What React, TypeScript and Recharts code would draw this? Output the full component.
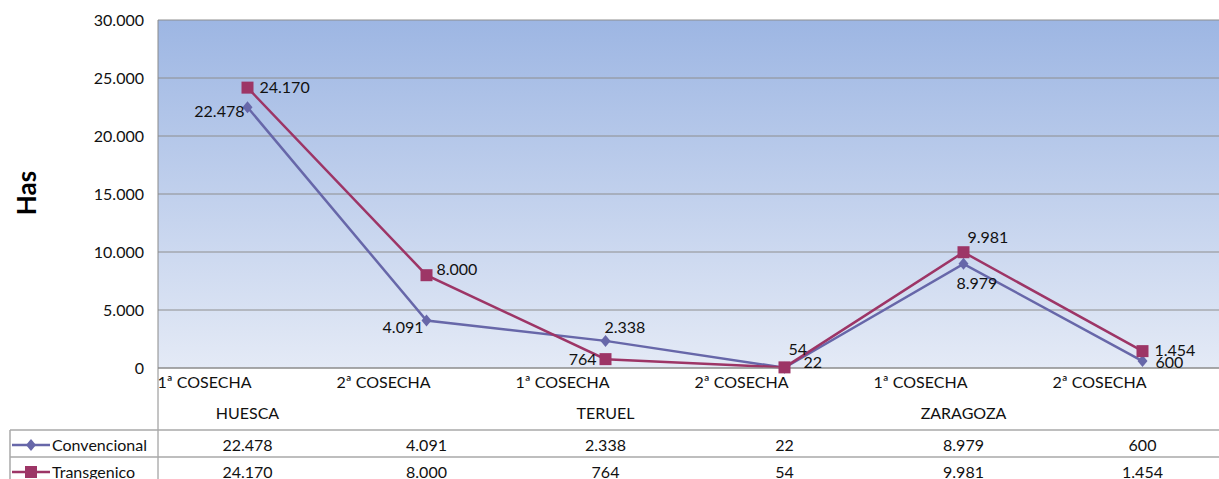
import React from 'react';
import { LineChart, Line, XAxis, YAxis, CartesianGrid, LabelList } from 'recharts';

// campaign table: Has per provincia / cosecha
const categories = ['1ª COSECHA', '2ª COSECHA', '1ª COSECHA', '2ª COSECHA', '1ª COSECHA', '2ª COSECHA'];
const groups = ['HUESCA', '', 'TERUEL', '', 'ZARAGOZA', ''];
const convencional = [22478, 4091, 2338, 22, 8979, 600];
const transgenico = [24170, 8000, 764, 54, 9981, 1454];
const seriesNames = ['Convencional', 'Transgenico'];
const yTicks = [0, 5000, 10000, 15000, 20000, 25000, 30000];

const CONV = '#6767a9';
const TRANS = '#9d3566';
const FONT = 'Lato, "Open Sans", "Liberation Sans", sans-serif';
const FS = 16;

// label placement per point [dx, dy, anchor], Excel put them all over the place
const convLabelPos: [number, number, string][] = [
  [-3, 10, 'end'],
  [-3, 12, 'end'],
  [-1, -8, 'start'],
  [19, 0, 'start'],
  [-7, 25, 'start'],
  [13, 7, 'start'],
];
const transLabelPos: [number, number, string][] = [
  [12, 5, 'start'],
  [10, 0, 'start'],
  [-9, 6, 'end'],
  [4, -12, 'start'],
  [4, -9, 'start'],
  [12, 5, 'start'],
];

const data = categories.map((c, i) => ({
  key: i,
  cat: c,
  conv: convencional[i],
  trans: transgenico[i],
}));

function fmt(n: number) {
  return String(n).replace(/\B(?=(\d{3})+(?!\d))/g, '.');
}

const Diamond = (p: any) => {
  const { cx, cy, index } = p;
  if (cx == null || cy == null) return <g key={'d' + index} />;
  return (
    <path
      key={'d' + index}
      d={`M${cx},${cy - 6}L${cx + 5},${cy}L${cx},${cy + 6}L${cx - 5},${cy}Z`}
      fill={CONV}
    />
  );
};

const Square = (p: any) => {
  const { cx, cy, index } = p;
  if (cx == null || cy == null) return <g key={'s' + index} />;
  return <rect key={'s' + index} x={cx - 6} y={cy - 6} width={12} height={12} fill={TRANS} />;
};

const makeLabel = (pos: [number, number, string][]) => (props: any) => {
  const { x, y, index, value } = props;
  const [dx, dy, anchor] = pos[index];
  return (
    <text x={x + dx} y={y + dy} textAnchor={anchor as any} fontSize={FS} fill="#111" fontFamily={FONT}>
      {fmt(value)}
    </text>
  );
};

const TableTick = (props: any) => {
  const { x, y, payload } = props;
  const i = payload.value;
  return (
    <g fontFamily={FONT} fontSize={FS} fill="#111">
      <text x={x + 4} y={y + 20} textAnchor="end">{categories[i]}</text>
      {groups[i] ? (
        <text x={x} y={y + 51} textAnchor="middle">{groups[i]}</text>
      ) : null}
      <text x={x} y={y + 83} textAnchor="middle">{fmt(convencional[i])}</text>
      <text x={x} y={y + 110} textAnchor="middle">{fmt(transgenico[i])}</text>
    </g>
  );
};

const HasLabel = () => (
  <text
    x={36}
    y={193}
    transform="rotate(-90 36 193)"
    textAnchor="middle"
    fontSize={26}
    fontWeight="bold"
    fontFamily={FONT}
    fill="#000"
  >
    Has
  </text>
);

export default function App() {
  return (
    <div style={{ position: 'absolute', left: 0, top: 0, width: 1219, height: 479, overflow: 'hidden', background: '#fff' }}>
      <LineChart width={1240} height={479} data={data} margin={{ top: 20, right: 8, bottom: 0, left: 0 }}>
        <defs>
          <linearGradient id="bg" x1="0" y1="0" x2="0" y2="1">
            <stop offset="0%" stopColor="#9db6e3" />
            <stop offset="100%" stopColor="#e4eaf6" />
          </linearGradient>
        </defs>
        <CartesianGrid vertical={false} stroke="#8e8e8e" fill="url(#bg)" fillOpacity={1} />
        <XAxis
          dataKey="key"
          type="category"
          interval={0}
          height={111}
          padding={{ left: 89.5, right: 89.5 }}
          tickSize={0}
          tickMargin={0}
          tickLine={false}
          axisLine={{ stroke: '#8a8a8a' }}
          tick={<TableTick />}
        />
        <YAxis
          width={158}
          domain={[0, 30000]}
          ticks={yTicks}
          tickFormatter={fmt}
          tickSize={0}
          tickMargin={14}
          tickLine={false}
          axisLine={{ stroke: '#8a8a8a' }}
          tick={{ fill: '#111', fontSize: FS, fontFamily: FONT }}
          label={<HasLabel />}
        />
        <Line
          dataKey="conv"
          name={seriesNames[0]}
          stroke={CONV}
          strokeWidth={2.5}
          dot={Diamond}
          activeDot={false}
          isAnimationActive={false}
        >
          <LabelList dataKey="conv" content={makeLabel(convLabelPos)} />
        </Line>
        <Line
          dataKey="trans"
          name={seriesNames[1]}
          stroke={TRANS}
          strokeWidth={2.5}
          dot={Square}
          activeDot={false}
          isAnimationActive={false}
        >
          <LabelList dataKey="trans" content={makeLabel(transLabelPos)} />
        </Line>
      </LineChart>
      <svg
        width={1219}
        height={479}
        style={{ position: 'absolute', left: 0, top: 0, pointerEvents: 'none' }}
        fontFamily={FONT}
      >
        <line x1={158} y1={368} x2={158} y2={479} stroke="#8a8a8a" strokeWidth={1} />
        <line x1={10} y1={430} x2={1219} y2={430} stroke="#a9a9a9" strokeWidth={1.5} />
        <line x1={10} y1={457} x2={1219} y2={457} stroke="#a9a9a9" strokeWidth={1.5} />
        <line x1={10} y1={430} x2={10} y2={479} stroke="#a9a9a9" strokeWidth={1.5} />
        <line x1={12} y1={445} x2={50} y2={445} stroke={CONV} strokeWidth={2.5} />
        <path d="M31,439L36,445L31,451L26,445Z" fill={CONV} />
        <text x={52} y={450.5} fontSize={FS} fill="#111">{seriesNames[0]}</text>
        <line x1={12} y1={472} x2={50} y2={472} stroke={TRANS} strokeWidth={2.5} />
        <rect x={25} y={466} width={12} height={12} fill={TRANS} />
        <text x={52} y={478} fontSize={FS} fill="#111">{seriesNames[1]}</text>
      </svg>
    </div>
  );
}
